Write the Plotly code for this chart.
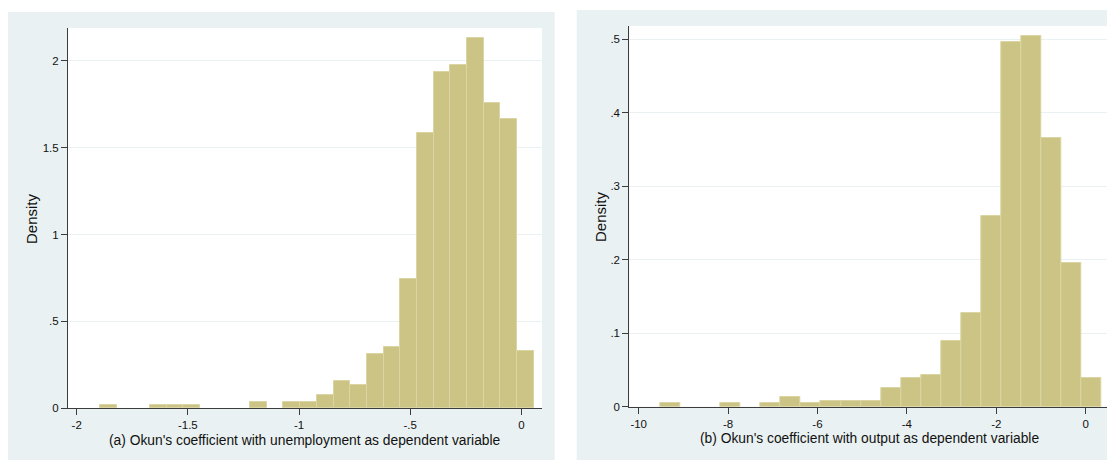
import plotly.graph_objects as go

W, H = 1107, 460

# ---------------- data ----------------
# (a) unemployment as dependent variable
left_bin_start = -1.895
left_bin_width = 0.075
left_density = [0.019, 0, 0, 0.019, 0.019, 0.019, 0, 0, 0, 0.036, 0, 0.036, 0.036,
                0.077, 0.157, 0.134, 0.313, 0.351, 0.742, 1.584, 1.935, 1.973,
                2.128, 1.758, 1.664, 0.330]
left_xticks = [-2, -1.5, -1, -0.5, 0]
left_xticktext = ["-2", "-1.5", "-1", "-.5", "0"]
left_yticks = [0, 0.5, 1, 1.5, 2]
left_yticktext = ["0", ".5", "1", "1.5", "2"]
left_title = "(a) Okun's coefficient with unemployment as dependent variable"

# (b) output as dependent variable
right_bin_start = -9.518
right_bin_width = 0.449
right_density = [0.0045, 0, 0, 0.0045, 0, 0.0045, 0.0127, 0.0045, 0.0082, 0.0082,
                 0.0082, 0.025, 0.0386, 0.0427, 0.089, 0.127, 0.259, 0.496, 0.504,
                 0.365, 0.195, 0.0386]
right_xticks = [-10, -8, -6, -4, -2, 0]
right_xticktext = ["-10", "-8", "-6", "-4", "-2", "0"]
right_yticks = [0, 0.1, 0.2, 0.3, 0.4, 0.5]
right_yticktext = ["0", ".1", ".2", ".3", ".4", ".5"]
right_title = "(b) Okun's coefficient with output as dependent variable"

y_title = "Density"

# ---------------- style ----------------
BG = "#EAF1F2"
BAR = "#CCC485"
BAR_LINE = "#DAD5A2"
GRID = "#EAF1F2"
AXIS = "#3C3C3C"
FONT = "Liberation Sans, Arial, sans-serif"


def px_x(p):
    return p / W


def px_y(p):
    return 1 - p / H


def centers(start, width, n):
    return [start + width * (i + 0.5) for i in range(n)]


def nonzero(vals):
    return [v if v > 0 else None for v in vals]


fig = go.Figure()
fig.add_trace(go.Bar(
    x=centers(left_bin_start, left_bin_width, len(left_density)),
    y=nonzero(left_density), width=left_bin_width,
    marker=dict(color=BAR, line=dict(color=BAR_LINE, width=1)),
    xaxis="x", yaxis="y", showlegend=False, hoverinfo="skip"))
fig.add_trace(go.Bar(
    x=centers(right_bin_start, right_bin_width, len(right_density)),
    y=nonzero(right_density), width=right_bin_width,
    marker=dict(color=BAR, line=dict(color=BAR_LINE, width=1)),
    xaxis="x2", yaxis="y2", showlegend=False, hoverinfo="skip"))

tickfont = dict(family=FONT, size=11.5, color="#111111")
common_x = dict(showgrid=False, zeroline=False, showline=True, linecolor=AXIS,
                linewidth=1, ticks="outside", ticklen=6, tickcolor=AXIS,
                tickwidth=1, tickfont=tickfont, fixedrange=True, automargin=False)
common_y = dict(showgrid=True, gridcolor=GRID, gridwidth=1, zeroline=False,
                showline=True, linecolor=AXIS, linewidth=1, ticks="outside",
                ticklen=6, tickcolor=AXIS, tickwidth=1, tickfont=tickfont,
                fixedrange=True, automargin=False)

# left plot region: x 68..542, y 28..408.3 (px)
fig.update_layout(
    xaxis=dict(domain=[px_x(68), px_x(542)], range=[-2.039, 0.0926],
               tickvals=left_xticks, ticktext=left_xticktext, anchor="y", **common_x),
    yaxis=dict(domain=[px_y(408.3), px_y(28)], range=[0, 2.188],
               tickvals=left_yticks, ticktext=left_yticktext, anchor="x", **common_y),
    xaxis2=dict(domain=[px_x(629.3), 1.0], range=[-10.21, 0.478],
                tickvals=right_xticks, ticktext=right_xticktext, anchor="y2", **common_x),
    yaxis2=dict(domain=[px_y(406.7), px_y(26)], range=[0, 0.5177],
                tickvals=right_yticks, ticktext=right_yticktext, anchor="x2", **common_y),
)

shapes = [
    dict(type="rect", xref="paper", yref="paper", layer="below",
         x0=px_x(8), x1=px_x(554.7), y0=0, y1=px_y(12),
         fillcolor=BG, line=dict(width=0)),
    dict(type="rect", xref="paper", yref="paper", layer="below",
         x0=px_x(576.7), x1=1.0, y0=0, y1=px_y(10),
         fillcolor=BG, line=dict(width=0)),
    dict(type="rect", xref="paper", yref="paper", layer="below",
         x0=px_x(68), x1=px_x(542), y0=px_y(408.3), y1=px_y(28),
         fillcolor="white", line=dict(width=0)),
    dict(type="rect", xref="paper", yref="paper", layer="below",
         x0=px_x(629.3), x1=1.0, y0=px_y(406.7), y1=px_y(26),
         fillcolor="white", line=dict(width=0)),
]

titlefont = dict(family=FONT, size=13.8, color="#111111")
densfont = dict(family=FONT, size=15, color="#111111")
annotations = [
    dict(text=left_title, xref="paper", yref="paper", x=px_x(305), y=px_y(440),
         xanchor="center", yanchor="middle", showarrow=False, font=titlefont),
    dict(text=right_title, xref="paper", yref="paper", x=px_x(869.5), y=px_y(438),
         xanchor="center", yanchor="middle", showarrow=False, font=titlefont),
    dict(text=y_title, xref="paper", yref="paper", x=px_x(31), y=px_y(219),
         xanchor="center", yanchor="middle", showarrow=False, textangle=-90,
         font=densfont),
    dict(text=y_title, xref="paper", yref="paper", x=px_x(600), y=px_y(217),
         xanchor="center", yanchor="middle", showarrow=False, textangle=-90,
         font=densfont),
]

fig.update_layout(
    width=W, height=H, margin=dict(l=0, r=0, t=0, b=0, autoexpand=False),
    paper_bgcolor="white", plot_bgcolor="rgba(0,0,0,0)",
    bargap=0, shapes=shapes, annotations=annotations,
    font=dict(family=FONT),
)

fig.write_html("out.html", config=dict(displayModeBar=False))
